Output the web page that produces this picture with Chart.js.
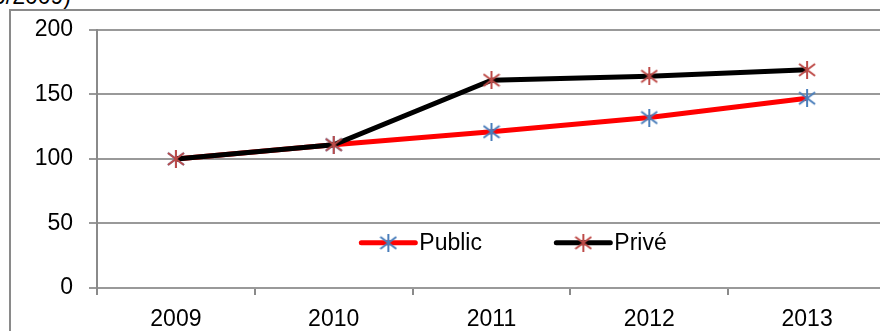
<!DOCTYPE html>
<html>
<head>
<meta charset="utf-8">
<script src="https://cdn.jsdelivr.net/npm/chart.js@4"></script>
<style>
  html, body { margin: 0; padding: 0; width: 880px; height: 331px; overflow: hidden; background: #fff; }
  #frame { position: absolute; left: 9px; top: 9px; width: 1000px; height: 400px;
           border-left: 2px solid #8a8a8a; border-top: 2px solid #8a8a8a; }
  #title { position: absolute; right: 809px; top: -17px; white-space: nowrap;
           font: 23px 'Liberation Sans', Arial, sans-serif; color: #000; }
  #wrap { position: absolute; left: 0; top: 0; width: 900px; height: 331px; }
</style>
</head>
<body>
<div id="frame"></div>
<div id="title">(indice 100/2009)</div>
<div id="wrap"><canvas id="lineChart"></canvas></div>
<script>
const years = ['2009', '2010', '2011', '2012', '2013'];
const publicValues = [100, 111, 121, 132, 147];
const priveValues = [100, 111, 161, 164, 169];
const seriesNames = ['Public', 'Privé'];

const fontFamily = "'Liberation Sans', Arial, sans-serif";

// asterisk marker like the excel one: an X with a vertical bar
function starMarker(color) {
	const c = document.createElement('canvas');
	c.width = 18;
	c.height = 18;
	const g = c.getContext('2d');
	g.strokeStyle = color;
	g.lineWidth = 2;
	g.beginPath();
	g.moveTo(9, 0); g.lineTo(9, 18);
	g.moveTo(1, 3); g.lineTo(17, 15);
	g.moveTo(17, 3); g.lineTo(1, 15);
	g.stroke();
	return c;
}

const blueStar = starMarker('#4a7ebb');
const redStar = starMarker('#be4b48');

// legend sits inside the plot, like in the original
const insideLegend = {
	id: 'insideLegend',
	afterDatasetsDraw(chart) {
		const ctx = chart.ctx;
		const area = chart.chartArea;
		const y = area.top + 0.825 * (area.bottom - area.top);
		let x = area.left + 0.335 * (area.right - area.left);
		chart.data.datasets.forEach(ds => {
			ctx.save();
			ctx.strokeStyle = ds.borderColor;
			ctx.lineWidth = 5;
			ctx.lineCap = 'round';
			ctx.beginPath();
			ctx.moveTo(x, y);
			ctx.lineTo(x + 54, y);
			ctx.stroke();
			ctx.drawImage(ds.pointStyle, x + 27 - 9, y - 9);
			ctx.fillStyle = '#000';
			ctx.font = '23px ' + fontFamily;
			ctx.textBaseline = 'middle';
			ctx.fillText(ds.label, x + 58, y + 1);
			ctx.restore();
			x += 195;
		});
	}
};

const ctx = document.getElementById('lineChart').getContext('2d');

new Chart(ctx, {
	type: 'line',
	data: {
		labels: years,
		datasets: [
			{
				label: seriesNames[0],
				data: publicValues,
				borderColor: '#ff0000',
				borderWidth: 5,
				pointStyle: blueStar,
				pointRadius: 9,
				order: 1
			},
			{
				label: seriesNames[1],
				data: priveValues,
				borderColor: '#000000',
				borderWidth: 5,
				pointStyle: redStar,
				pointRadius: 9,
				order: 0
			}
		]
	},
	options: {
		responsive: true,
		maintainAspectRatio: false,
		animation: false,
		layout: { padding: { left: 0, top: 25, right: 13, bottom: 0 } },
		plugins: {
			legend: { display: false },
			tooltip: { enabled: false }
		},
		scales: {
			x: {
				offset: true,
				grid: { offset: true, drawOnChartArea: false, color: '#8a8a8a', lineWidth: 2, tickLength: 7 },
				border: { display: false },
				ticks: { color: '#000', font: { family: fontFamily, size: 23 }, padding: 11, maxRotation: 0 },
				afterFit: scale => { scale.height = 43; }
			},
			y: {
				min: 0,
				max: 200,
				ticks: { stepSize: 50, color: '#000', font: { family: fontFamily, size: 23 }, padding: 16 },
				grid: { color: '#999', lineWidth: 2, tickLength: 8 },
				border: { color: '#8a8a8a', width: 2 },
				afterFit: scale => { scale.width = 97; }
			}
		}
	},
	plugins: [insideLegend]
});
</script>
</body>
</html>
